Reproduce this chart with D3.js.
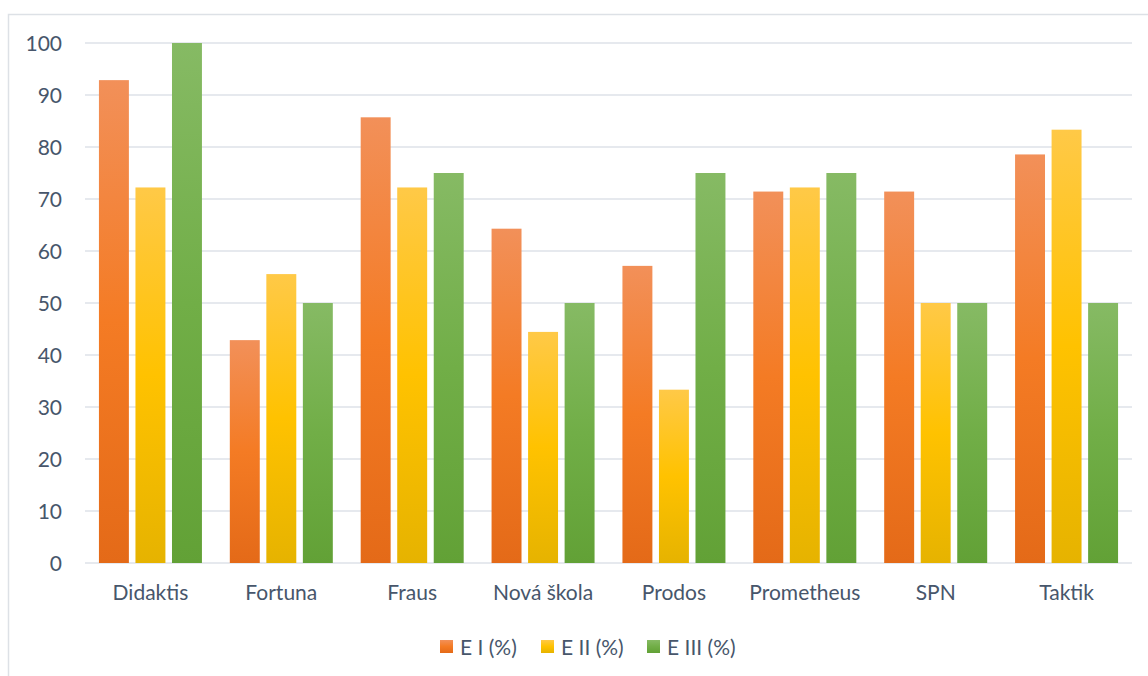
<!DOCTYPE html>
<html>
<head>
<meta charset="utf-8">
<script src="https://cdn.jsdelivr.net/npm/d3@7"></script>
<style>
  html, body { margin: 0; padding: 0; background: #fff; }
  svg { display: block; }
  text { font-family: Lato, "Open Sans", sans-serif; fill: #47566B; }
</style>
</head>
<body>
<div id="chart"></div>
<script>
'use strict';

// data
var categories = ['Didaktis', 'Fortuna', 'Fraus', 'Nová škola', 'Prodos', 'Prometheus', 'SPN', 'Taktik'];
var seriesNames = ['E I (%)', 'E II (%)', 'E III (%)'];
var e1 = [92.86, 42.86, 85.71, 64.29, 57.14, 71.43, 71.43, 78.57];
var e2 = [72.22, 55.56, 72.22, 44.44, 33.33, 72.22, 50, 83.33];
var e3 = [100, 50, 75, 50, 75, 75, 50, 50];
var yTicks = [0, 10, 20, 30, 40, 50, 60, 70, 80, 90, 100];

(function(){

	var seriesValues = [e1, e2, e3];

	// colours: light top, base middle, dark bottom
	var gradStops = [
		['#F29059', '#F47B24', '#E46A18'],
		['#FFC947', '#FFC200', '#E6B300'],
		['#86BA64', '#71AE47', '#62A136']
	];

	var width = 1148, height = 676;
	var svg = d3.select('#chart').append('svg')
		.attr('width', width)
		.attr('height', height);

	var defs = svg.append('defs');
	gradStops.forEach(function (s, i) {
		var g = defs.append('linearGradient')
			.attr('id', 'grad' + i)
			.attr('x1', 0).attr('y1', 0).attr('x2', 0).attr('y2', 1);
		g.append('stop').attr('offset', '0%').attr('stop-color', s[0]);
		g.append('stop').attr('offset', '50%').attr('stop-color', s[1]);
		g.append('stop').attr('offset', '100%').attr('stop-color', s[2]);
	});

	// chart frame
	svg.append('rect')
		.attr('x', 8.5).attr('y', 14.5)
		.attr('width', 1160).attr('height', 700)
		.attr('fill', 'none')
		.attr('stroke', '#DDE1E6')
		.attr('stroke-width', 1.5);

	var plotLeft = 85, plotRight = 1132, plotTop = 43, plotBottom = 563;

	var y = d3.scaleLinear().domain([0, 100]).range([plotBottom, plotTop]);
	var x0 = d3.scaleBand().domain(categories).range([plotLeft, plotRight]).paddingInner(0.213).paddingOuter(0.1065);
	var x1 = d3.scaleBand().domain(d3.range(3)).range([0, x0.bandwidth()]).paddingInner(0.18);

	// gridlines
	svg.append('g').selectAll('line')
		.data(yTicks)
		.enter()
		.append('line')
		.attr('x1', plotLeft).attr('x2', plotRight)
		.attr('y1', function (d) { return y(d); })
		.attr('y2', function (d) { return y(d); })
		.attr('stroke', '#DEE2E8')
		.attr('stroke-width', 1.5);

	// y tick labels
	svg.append('g').selectAll('text')
		.data(yTicks)
		.enter()
		.append('text')
		.attr('x', 62)
		.attr('y', function (d) { return y(d); })
		.attr('dy', '0.36em')
		.attr('text-anchor', 'end')
		.attr('font-size', 21)
		.text(function (d) { return d; });

	// bars
	var groups = svg.append('g').selectAll('g')
		.data(categories)
		.enter()
		.append('g')
		.attr('transform', function (d) { return 'translate(' + x0(d) + ',0)'; });

	groups.selectAll('rect')
		.data(function (d, ci) {
			return seriesValues.map(function (vals, si) { return { s: si, v: vals[ci] }; });
		})
		.enter()
		.append('rect')
		.attr('x', function (d) { return x1(d.s); })
		.attr('width', x1.bandwidth())
		.attr('y', function (d) { return y(d.v); })
		.attr('height', function (d) { return y(0) - y(d.v); })
		.attr('fill', function (d) { return 'url(#grad' + d.s + ')'; });

	// category labels
	svg.append('g').selectAll('text')
		.data(categories)
		.enter()
		.append('text')
		.attr('x', function (d) { return x0(d) + x0.bandwidth() / 2; })
		.attr('y', 600)
		.attr('text-anchor', 'middle')
		.attr('font-size', 21)
		.text(function (d) { return d; });

	// legend
	var legendX = [440, 541, 647];
	var legend = svg.append('g').selectAll('g')
		.data(seriesNames)
		.enter()
		.append('g')
		.attr('transform', function (d, i) { return 'translate(' + legendX[i] + ',640)'; });

	legend.append('rect')
		.attr('width', 13).attr('height', 13)
		.attr('fill', function (d, i) { return 'url(#grad' + i + ')'; });

	legend.append('text')
		.attr('x', 20)
		.attr('y', 7)
		.attr('dy', '0.36em')
		.attr('font-size', 21)
		.text(function (d) { return d; });

}());
</script>
</body>
</html>
